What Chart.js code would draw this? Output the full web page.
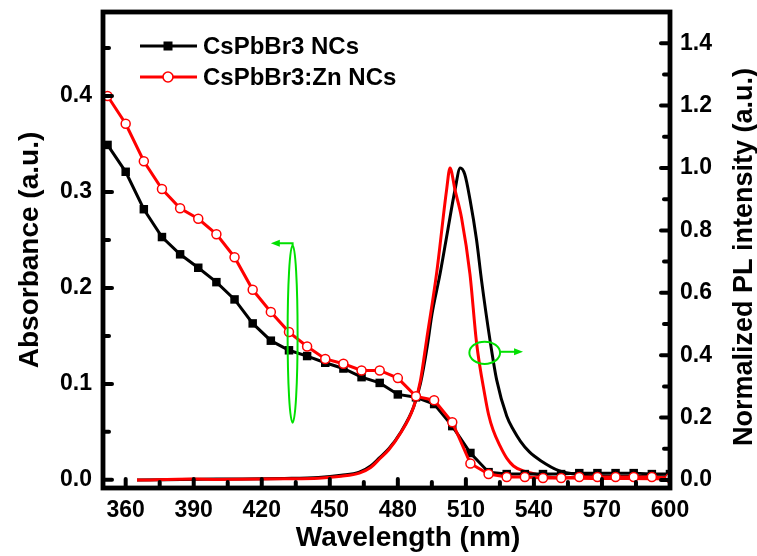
<!DOCTYPE html>
<html>
<head>
<meta charset="utf-8" />
<title>CsPbBr3 NCs: absorbance and PL</title>
<script src="https://cdn.jsdelivr.net/npm/chart.js@4"></script>
<style>
  html, body { margin: 0; padding: 0; background: #fff; }
  canvas { display: block; }
</style>
</head>
<body>
<canvas id="chart" width="757" height="556"></canvas>
<script>
// absorbance (left axis), one marker every 8 nm
const absWavelength = [352, 360, 368, 376, 384, 392, 400, 408, 416, 424, 432, 440, 448, 456, 464, 472,
  480, 488, 496, 504, 512, 520, 528, 536, 544, 552, 560, 568, 576, 584, 592, 600];
const absPristine = [0.349, 0.321, 0.282, 0.253, 0.235, 0.221, 0.206, 0.188, 0.163, 0.145, 0.135, 0.129,
  0.122, 0.116, 0.107, 0.101, 0.089, 0.086, 0.079, 0.056, 0.028, 0.008, 0.006, 0.006, 0.006, 0.006,
  0.007, 0.007, 0.007, 0.007, 0.006, 0.006];
const absZn = [0.400, 0.371, 0.332, 0.303, 0.283, 0.272, 0.256, 0.232, 0.198, 0.175, 0.154, 0.139,
  0.126, 0.121, 0.114, 0.114, 0.106, 0.087, 0.083, 0.060, 0.017, 0.006, 0.003, 0.003, 0.002, 0.002,
  0.003, 0.003, 0.003, 0.003, 0.003, 0.002];

// normalized PL (right axis)
const plWavelengthPristine = [365, 400, 430, 445, 455, 463, 468, 472, 476, 481, 487, 490, 493, 495, 498.6,
  502, 505.2, 507.5, 509.5, 511.8, 514.7, 516.9, 520.6, 523.6, 528, 531, 534, 538, 543, 551, 560, 570, 585, 600];
const plPristine = [0.0, 0.003, 0.005, 0.008, 0.015, 0.025, 0.045, 0.072, 0.1, 0.15, 0.235, 0.31, 0.43, 0.53, 0.66,
  0.8, 0.93, 1.0, 0.98, 0.9, 0.77, 0.64, 0.45, 0.32, 0.205, 0.16, 0.125, 0.09, 0.062, 0.03, 0.017, 0.012, 0.011, 0.01];
const plWavelengthZn = [365, 390, 400, 430, 445, 455, 463, 468, 472, 476, 481, 487, 490, 492.7, 497.1,
  501.5, 503, 505.2, 508.1, 511.8, 514.7, 518.4, 520, 522, 525, 528, 531, 535, 540, 546, 560, 580, 600];
const plZn = [0.0, 0.003, 0.002, 0.004, 0.006, 0.012, 0.022, 0.04, 0.068, 0.097, 0.148, 0.235, 0.32, 0.45, 0.663,
  0.93, 1.0, 0.93, 0.84, 0.66, 0.44, 0.27, 0.21, 0.16, 0.11, 0.07, 0.045, 0.03, 0.02, 0.01, 0.006, 0.005, 0.004];

const xMajorTicks = [360, 390, 420, 450, 480, 510, 540, 570, 600];
const xMinorTicks = [375, 405, 435, 465, 495, 525, 555, 585];
const absMajorTicks = [0, 0.1, 0.2, 0.3, 0.4];
const absMinorTicks = [0.05, 0.15, 0.25, 0.35, 0.45];
const plMajorTicks = [0, 0.2, 0.4, 0.6, 0.8, 1.0, 1.2, 1.4];
const plMinorTicks = [0.1, 0.3, 0.5, 0.7, 0.9, 1.1, 1.3];

const seriesLabels = ['CsPbBr3 NCs', 'CsPbBr3:Zn NCs'];

// green guide marks, in data units
const absGuide = { x: 433.6, y: 0.152, rx: 2.2, ry: 0.0925, tipX: 424, lineY: 0.2466 };
const plGuide = { x: 518.3, y: 0.4077, rx: 6.77, ry: 0.0357, tipX: 535.2, lineY: 0.411 };

const FONT = "'Liberation Sans', Arial, sans-serif";
Chart.defaults.font.family = FONT;
Chart.defaults.color = '#000';

const pts = (xs, ys) => xs.map((x, i) => ({ x, y: ys[i] }));
const tickList = (major, minor) => major.concat(minor).sort((a, b) => a - b).map(v => ({ value: v }));

function fixBox(size, key) {
  return function (scale) {
    scale[key] = size;
    scale.paddingTop = 0; scale.paddingBottom = 0;
    scale.paddingLeft = 0; scale.paddingRight = 0;
  };
}

function rotatedText(ctx, text, x, y, size) {
  ctx.save();
  ctx.translate(x, y);
  ctx.rotate(-Math.PI / 2);
  ctx.font = 'bold ' + size + 'px ' + FONT;
  ctx.fillStyle = '#000';
  ctx.textAlign = 'center';
  ctx.textBaseline = 'middle';
  ctx.fillText(text, 0, 0);
  ctx.restore();
}

const frameAndTicks = {
  id: 'frameAndTicks',
  afterDraw(chart) {
    const { ctx, chartArea: a, scales } = chart;
    ctx.save();
    ctx.strokeStyle = '#000';
    ctx.lineWidth = 4;
    ctx.lineCap = 'round';
    const mark = (x1, y1, x2, y2) => { ctx.beginPath(); ctx.moveTo(x1, y1); ctx.lineTo(x2, y2); ctx.stroke(); };
    scales.x.ticks.forEach(t => {
      const p = scales.x.getPixelForValue(t.value);
      mark(p, a.bottom, p, a.bottom - (xMajorTicks.includes(t.value) ? 9 : 6));
    });
    scales.y.ticks.forEach(t => {
      const p = scales.y.getPixelForValue(t.value);
      mark(a.left, p, a.left + (absMajorTicks.includes(t.value) ? 9 : 6), p);
    });
    scales.y1.ticks.forEach(t => {
      const p = scales.y1.getPixelForValue(t.value);
      mark(a.right, p, a.right - (plMajorTicks.includes(t.value) ? 9 : 6), p);
    });
    ctx.lineCap = 'butt';
    ctx.lineWidth = 4.8;
    ctx.strokeRect(a.left, a.top, a.right - a.left, a.bottom - a.top);

    // axis titles
    ctx.font = 'bold 28px ' + FONT;
    ctx.fillStyle = '#000';
    ctx.textAlign = 'center';
    ctx.textBaseline = 'middle';
    ctx.fillText('Wavelength (nm)', 408, 538);
    ctx.restore();
    rotatedText(ctx, 'Absorbance (a.u.)', 30, 250, 28);
    rotatedText(ctx, 'Normalized PL intensity (a.u.)', 745, 257, 27);
  }
};

const guides = {
  id: 'guides',
  afterDatasetsDraw(chart) {
    const { ctx, scales } = chart;
    const x = scales.x;
    ctx.save();
    ctx.strokeStyle = '#00e000';
    ctx.fillStyle = '#00e000';
    ctx.lineWidth = 2;
    const draw = (g, ys, dir) => {
      const cx = x.getPixelForValue(g.x), cy = ys.getPixelForValue(g.y);
      const rx = Math.abs(x.getPixelForValue(g.x + g.rx) - cx);
      const ry = Math.abs(ys.getPixelForValue(g.y + g.ry) - cy);
      ctx.beginPath();
      ctx.ellipse(cx, cy, rx, ry, 0, 0, Math.PI * 2);
      ctx.stroke();
      const ly = ys.getPixelForValue(g.lineY);
      const tip = x.getPixelForValue(g.tipX);
      const sx = dir < 0 ? cx : cx + rx;
      ctx.beginPath();
      ctx.moveTo(sx, dir < 0 ? cy - ry : ly);
      ctx.lineTo(sx, ly);
      ctx.lineTo(tip - dir * 6, ly);
      ctx.stroke();
      ctx.beginPath();
      ctx.moveTo(tip, ly);
      ctx.lineTo(tip - dir * 9, ly - 3.5);
      ctx.lineTo(tip - dir * 9, ly + 3.5);
      ctx.closePath();
      ctx.fill();
    };
    draw(absGuide, scales.y, -1);
    draw(plGuide, scales.y1, 1);
    ctx.restore();
  }
};

const sampleLegend = {
  id: 'sampleLegend',
  afterDraw(chart) {
    const { ctx } = chart;
    ctx.save();
    ctx.font = 'bold 24px ' + FONT;
    ctx.textBaseline = 'middle';
    ctx.textAlign = 'left';
    [[seriesLabels[0], '#000', 46], [seriesLabels[1], '#ff0000', 77]].forEach(([label, color, y], i) => {
      ctx.strokeStyle = color;
      ctx.lineWidth = 3;
      ctx.beginPath(); ctx.moveTo(140, y); ctx.lineTo(197, y); ctx.stroke();
      if (i === 0) {
        ctx.fillStyle = color;
        ctx.fillRect(163.5, y - 4.5, 9, 9);
      } else {
        ctx.fillStyle = '#fff';
        ctx.lineWidth = 1.6;
        ctx.beginPath(); ctx.arc(168, y, 5, 0, Math.PI * 2); ctx.fill(); ctx.stroke();
      }
      ctx.fillStyle = '#000';
      ctx.fillText(label, 203, y + 1);
    });
    ctx.restore();
  }
};

const tickFont = { family: FONT, size: 23, weight: 'bold' };

new Chart(document.getElementById('chart'), {
  type: 'line',
  data: {
    datasets: [
      {
        label: seriesLabels[1], data: pts(absWavelength, absZn), yAxisID: 'y',
        borderColor: '#ff0000', borderWidth: 3, tension: 0,
        pointStyle: 'circle', pointRadius: 4.5, pointBackgroundColor: '#fff',
        pointBorderColor: '#ff0000', pointBorderWidth: 1.5
      },
      {
        label: seriesLabels[0], data: pts(absWavelength, absPristine), yAxisID: 'y',
        borderColor: '#000', borderWidth: 3, tension: 0,
        pointStyle: 'rect', pointRadius: 6, pointBackgroundColor: '#000',
        pointBorderColor: '#000', pointBorderWidth: 0
      },
      {
        label: 'PL ' + seriesLabels[1], data: pts(plWavelengthZn, plZn), yAxisID: 'y1',
        borderColor: '#ff0000', borderWidth: 3, pointRadius: 0, cubicInterpolationMode: 'monotone'
      },
      {
        label: 'PL ' + seriesLabels[0], data: pts(plWavelengthPristine, plPristine), yAxisID: 'y1',
        borderColor: '#000', borderWidth: 3, pointRadius: 0, cubicInterpolationMode: 'monotone'
      }
    ]
  },
  options: {
    responsive: false,
    animation: false,
    devicePixelRatio: 1,
    layout: { padding: { top: 12, left: 0, right: 0, bottom: 0 } },
    plugins: { legend: { display: false }, tooltip: { enabled: false } },
    scales: {
      x: {
        type: 'linear', position: 'bottom', min: 350, max: 600,
        grid: { display: false, drawTicks: false },
        border: { display: false },
        afterBuildTicks: s => { s.ticks = tickList(xMajorTicks, xMinorTicks); },
        afterFit: fixBox(68, 'height'),
        ticks: {
          font: tickFont, padding: 9, autoSkip: false, maxRotation: 0,
          callback: v => xMajorTicks.includes(v) ? String(v) : ''
        }
      },
      y: {
        type: 'linear', position: 'left', min: -0.0085, max: 0.4875,
        grid: { display: false, drawTicks: false },
        border: { display: false },
        afterBuildTicks: s => { s.ticks = tickList(absMajorTicks, absMinorTicks); },
        afterFit: fixBox(103, 'width'),
        ticks: {
          font: tickFont, padding: 11, autoSkip: false,
          callback: v => absMajorTicks.includes(v) ? v.toFixed(1) : ''
        }
      },
      y1: {
        type: 'linear', position: 'right', min: -0.0256, max: 1.5,
        grid: { display: false, drawTicks: false },
        border: { display: false },
        afterBuildTicks: s => { s.ticks = tickList(plMajorTicks, plMinorTicks); },
        afterFit: fixBox(87, 'width'),
        ticks: {
          font: tickFont, padding: 10, autoSkip: false,
          callback: v => plMajorTicks.includes(v) ? v.toFixed(1) : ''
        }
      }
    }
  },
  plugins: [guides, frameAndTicks, sampleLegend]
});
</script>
</body>
</html>
